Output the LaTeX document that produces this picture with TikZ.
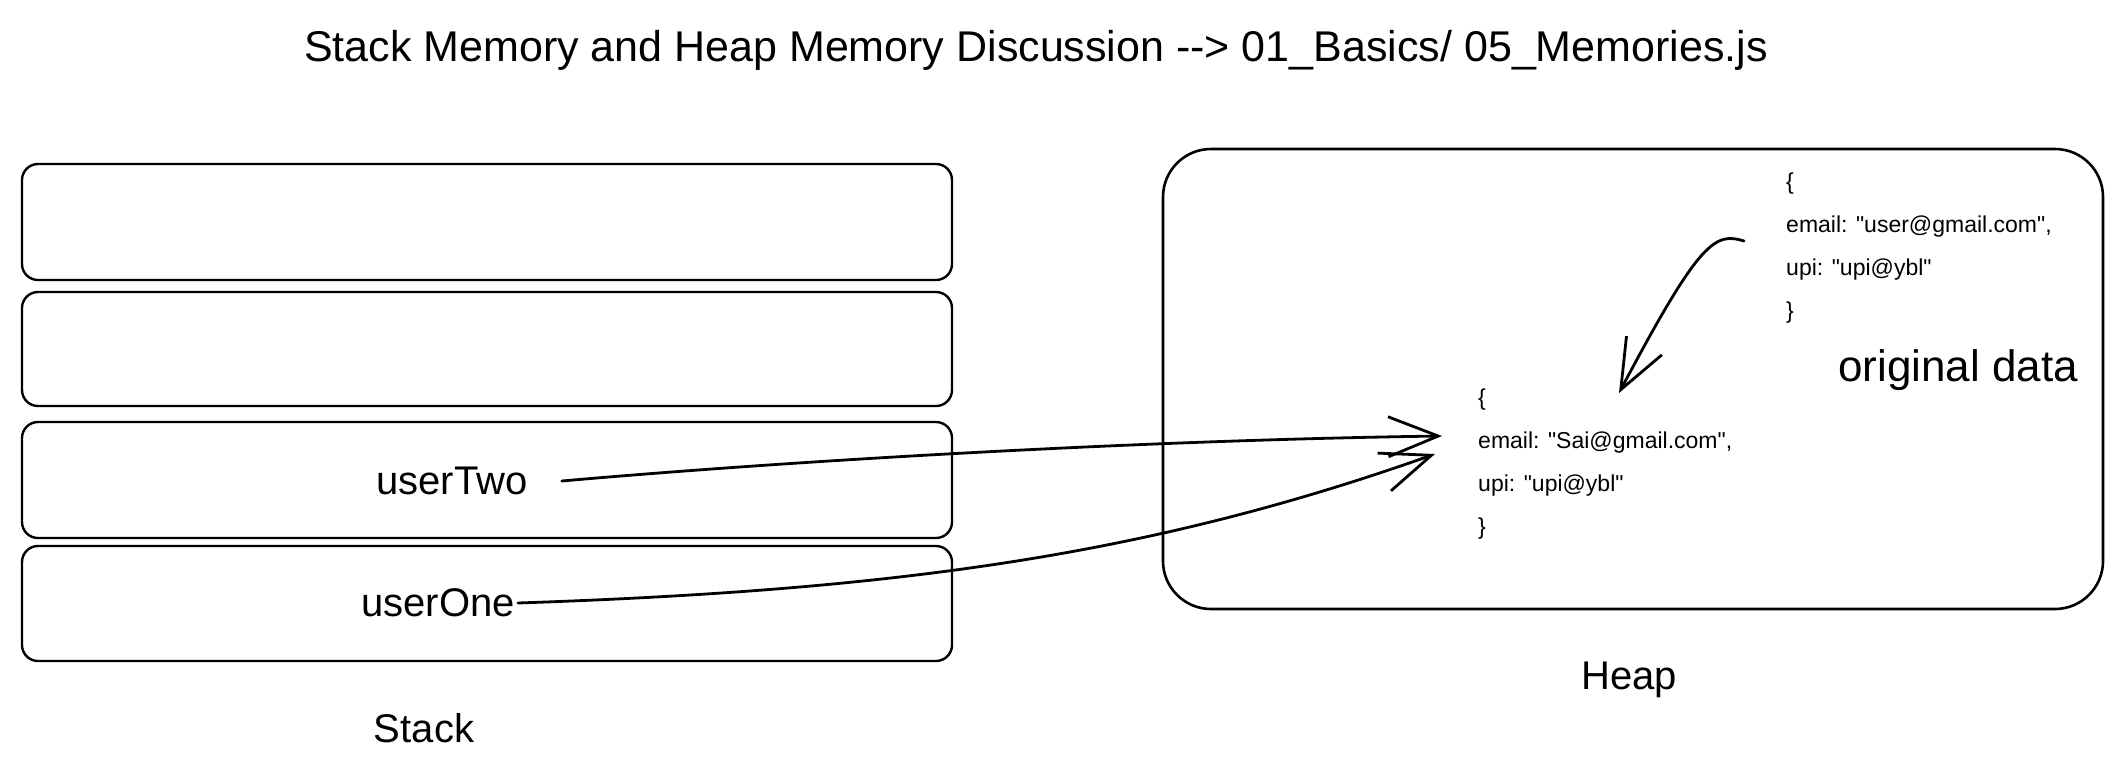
\documentclass[tikz,border=0pt]{standalone}
\usepackage{fontspec}
\setmainfont{Liberation Sans}[Ligatures=TeXOff]
\usetikzlibrary{arrows.meta}
\begin{document}
\begin{tikzpicture}[x=1pt,y=-1pt,
  stackbox/.style={draw, line width=2.4pt, rounded corners=16pt, minimum width=930pt, inner sep=0pt},
  heapbox/.style={draw, line width=2.6pt, rounded corners=48pt, minimum width=940pt, minimum height=460pt, inner sep=0pt},
  code/.style={font=\fontsize{23}{43}\selectfont, align=left, anchor=north west, inner sep=0pt},
  lbl/.style={font=\fontsize{40}{48}\selectfont, inner sep=0pt},
  link/.style={line width=2.8pt, line cap=round, -{Straight Barb[length=50pt,width=40pt,line width=2.8pt]}}
]
\useasboundingbox (0,0) rectangle (2123,772);
\fill[white] (0,0) rectangle (2123,772);

\node[lbl, font=\fontsize{43}{50}\selectfont] (title) at (1036,50) {Stack Memory and Heap Memory Discussion \mbox{-}\mbox{-}> 01\_Basics/ 05\_Memories.js};

% stack
\node[stackbox, minimum height=116pt] (s1) at (487,222) {};
\node[stackbox, minimum height=114pt] (s2) at (487,349) {};
\node[stackbox, minimum height=116pt] (s3) at (487,480) {};
\node[stackbox, minimum height=115pt] (s4) at (487,603.5) {};
\node[lbl] (u2) at (452,481) {userTwo};
\node[lbl] (u1) at (438,603) {userOne};
\node[lbl] (stack) at (424,728) {Stack};

% heap
\node[heapbox] (heap) at (1633,379) {};
\node[lbl] (heaplbl) at (1629,680) {Heap};
\node[code] (orig) at (1786,173) {\{\\email: "user@gmail.com",\\upi: "upi@ybl"\\\}};
\node[code] (copy) at (1478,389) {\{\\email: "Sai@gmail.com",\\upi: "upi@ybl"\\\}};
\node[lbl, font=\fontsize{44}{52}\selectfont] (origlbl) at (1958,370) {original data};

% connectors
\coordinate (tip2) at (1442,436);
\coordinate (tip1) at (1435,454);
\coordinate (ostart) at (1744,241);
\coordinate (tip3) at (1619,393);
\draw[link] ([xshift=34pt]u2.east) .. controls (800,460) and (1150,440) .. (tip2);
\draw[link] ([xshift=3pt]u1.east) .. controls (900,590) and (1150,555) .. (tip1);
\draw[link] (ostart) .. controls (1715,232) and (1700,240) .. (tip3);
\end{tikzpicture}
\end{document}
